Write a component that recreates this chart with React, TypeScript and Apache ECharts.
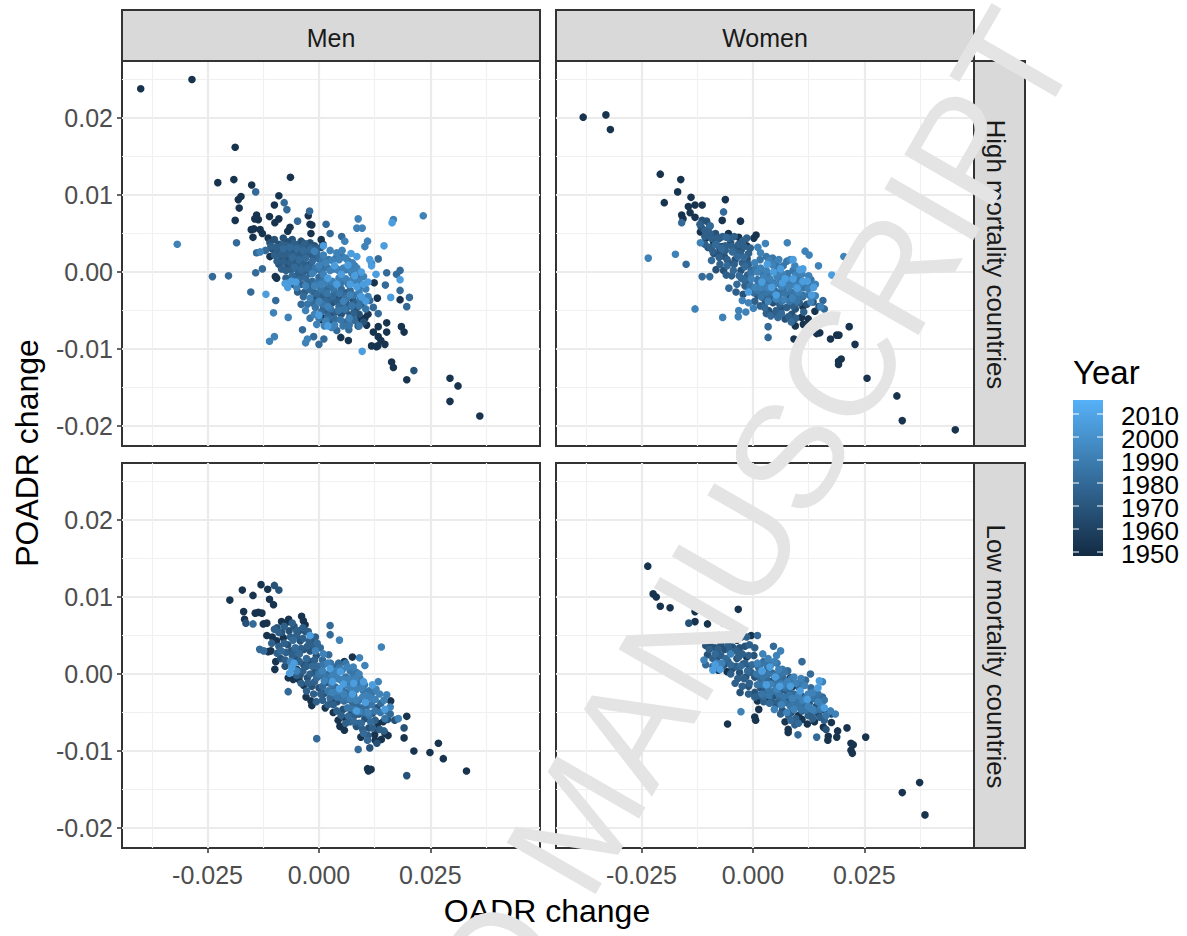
import React, { useEffect, useRef } from "react";
import * as echarts from "echarts";

type Group = [number, number[]];

const menHigh: Group[] = [
  [1952, [-40,23.8, -28.5,25, -18.8,16.2, -22.7,11.6, -19.1,12, -15.1,11.3, -6.4,12.3, -18.1,9.4, -17.5,9.8, -17.9,8.3, -18.8,6.7, -9,9.9, -10,8.7, -14,7.4, -13.6,6.8, -14.4,6.9, -11.1,7.2, -9,6.9, -15.2,5.5, -14.6,5.6, -14.8,4.5, -13.2,5.5, -12.7,5, -9.9,6.4, -6.5,5.8, -7,5.3, -2,6.2, -1.6,6.1, -1.8,5, -2.4,7.3, -11.4,4.4, 36.1,-18.7, 29.4,-13.8, 31.2,-14.8, 29.4,-16.8, 19.7,-14, 16.3,-11.7, 16.7,-12.4, 11.8,-9.6, 12.9,-9.7, 14.8,-9.4, 13.2,-9.6, 19.1,-7.8, 18.5,-7.1, 15.2,-6.6, 15.2,-7.8, 13.3,-7.1, 12.2,-7.8, 13.3,-8.4, 13.9,-8.9, 18.2,-3.6, 13.1,-3.4, 12.4,-1.4, 8.8,-7, 10.3,-6, 10.7,-6.9, 9.2,-6, 11,-5.5, 6.6,-8.9, 4.9,-8.5, 1,-6, 0.6,-6.2, 0.5,4.2, 0.9,3.6, -11,2, -9.5,-0.8, -9.8,-0.6]],
  [1968, [21.3,-12.8, -11,3.8, -10,4.2, -9,3.6, -8,4.4, -7,3.9, -6,4.2, -5,3.5, -4,4, -3,3.3, -2,3.8, -1,3.4, -10.5,3, -9,2.7, -7.5,2.9, -6,2.6, -4.5,2.5, -3,2.4, -8.5,1.8, -7,1.7, -5.5,1.5, -9,1, -7,0.9, -3.5,1.5, -1.5,2.4, 0.5,3.2, -5,0.5, -2,1, 2,-3.2, 3,-4, 4.5,-3.3, 6,-4, 7.5,-3.5, 8.5,-4.6, 1,-4.8, 3,-5.3, 5,-5.5, 7,-5.6, 9,-5.5, 10,-6.5, -1,-3.5, 0,-2.8, 8,-5, 9.5,-4.2, 6.2,-2.7, 2.5,-6.4]],
  [1975, [-10.8,3.3, -9.6,3.2, -8.2,3.5, -7.2,3.4, -5.6,3.7, -4.4,3.2, -3.2,3.7, -1.8,3.2, -0.6,3, -10,2.2, -8.8,2.3, -7.8,2.2, -6.6,2.4, -5.2,2.2, -3.8,2.1, -2.6,2.2, -1.2,1.9, -9.4,1.4, -8,1.3, -6.4,1.2, -4.8,1, -3.2,1, -1.8,0.7, -8.4,0.4, -7.4,0.2, -6.2,0.3, -4.6,0, -3.4,0.1, -2,-0.2, -7.4,-0.8, -5.2,-0.6, -3.8,-0.4, -5.8,-1.6, -4,-1.6, -2.4,-1.5, -4.8,-2.6, -3.2,-2.6, -1.2,-2.6, 0.5,-3.2, 2.2,-3.8, 4,-3.8, 5.2,-4.2, 6.8,-4.4, 8.2,-4, 1.6,-5, 3.8,-5.2, 6,-5, 7.8,-5.4]],
  [1980, [-14,2.5, -12,2.8, -8,3, -6.5,3.2, -5,3, -3.5,2.8, -2,2.9, -0.5,2.4, -6,1.9, -4.5,1.6, -3,1.8, -1.5,1.4, 0,1.7, -5.5,0.6, -4,0.3, -2.5,0.5, -1,0.2, 0.5,0.6, -6,-0.5, -4.5,-1, -3,-0.8, -1.5,-1.2, 0,-0.7, 1,-2.5, -2,-2.3, -0.5,-2.8, 2,-2, 3.5,-2.6, 5,-2.2, 1.5,-3.8, 3,-3.2, 4.5,-4.5, 6,-3, 7,-2.4, -3.5,-3.2, -4,-4.2, -1.5,-4, 0.5,-5.2, 2,-5.8, 3.5,-6.1, 6,-6.5, 8,-6.3, -14.2,10.4, -7.8,9, -7.2,8.1, -4.8,6.6, -2.1,7.9, -18.5,3.8, -23.9,-0.6, -20.3,-0.5, 1.6,6.2, 2.5,5, 6.7,-7.5, 4,-7.6, -14.2,-0.1, -12.7,0.4, -15.3,-2.6, -9.7,-3.7, 20.3,-3.3, 19.7,-4.5, 18.2,-2.4, 13.3,-5.4, 12.2,-4.6, 14.9,-1.7, 15.2,-0.1, 17.4,-0.3, 18.2,0.2, 11.4,-3.7, 13.3,1.7, 5.1,4.6, -3.7,-7.5, -1.2,-8.4, 1.1,-8.7, 0,-9.4]],
  [1986, [0.8,1.6, 2.2,1.6, 3.8,1.8, 5.2,2, 6.6,1.4, 8,0.8, -0.8,0.5, 0.6,0, 1.8,0.6, 3.2,0.4, 4.4,0.2, 6,0.3, 7.4,-0.2, 9,-0.4, -0.4,-1.4, 1,-1, 2.2,-1.6, 3.6,-1.8, 5,-1.4, 6.6,-1.6, 8.2,-1.4, 9.8,-1.8, 0.4,-2.2, 1.8,-2.8, 3.2,-2.2, 4.6,-2.8, 6.2,-3.4, 7.8,-3, 9.2,-3.5, -2.6,-4.2, -0.8,-4.6, 0.8,-4.2, 2.6,-4.8, 4.4,-5, 5.8,-4.8, 7.4,-4.4, 9,-4.4, 10.5,-4.8, -2,-6, 0,-6, 1.8,-6.2, 4.8,-6.2, 5.4,-7, 6.8,-6.9, 9,-7]],
  [1992, [-31.8,3.6, 8.8,6.9, 23.4,7.3, 16.7,6.8, 8.5,5.7, 9.7,5.7, 5.8,4, 10.9,4, 10.3,3.3, -13.2,2.6, -10.2,-5.3, -6.9,-5.9, -11.1,-9, -10,-8.4, -3,-9.2, -2.6,-8.7, -1,2.7, 1,2.2, 2.5,2.8, 4,2.5, 5.2,2.8, -1.5,-0.2, 0,0.8, 1.5,1.2, 3,1.5, 4.5,1.6, 6,1.8, 7.5,1.2, 1,-0.3, 2.5,0.2, 4,0.4, 5.5,0.5, 7,0.2, 8.5,0.5, 1.5,-1.3, 3,-1.2, 4.5,-0.8, 6,-0.9, 7.5,-1, 9,-1.2, 10,-0.6, -7,-1.4, -5,-2, -3,-1.8, -1,-1.8, 0.5,-1.6, -2,-3.4, 0,-3.8, 2,-4.5, 5.5,-3.8, 7,-3, 9,-2.6, 10.5,-2.2, 11,-3.2, -3,-5, -1,-5.5, -0.5,-6.8, 1.2,-7, 2.8,-7.2, 1.5,-6.4, 3.5,-6.9, 6.8,-6, 11.8,1.1]],
  [2006, [1,3.4, 3.5,0.8, 6.5,0.9, 2,-0.8, 5,-0.3, 8,-0.5, 9.5,0, 4,-1.6, 7,-1.6, 8.5,-1.9, 10,-1.6, 11,-1.3, 9.5,-3.2, 10.5,-3.8, 0,-5.6, 2,-7, -11.9,-2.9, -7,-2, -7.6,-1.5, -6.2,-1.2, -5.2,-1.3, 12.8,-0.3, 11.4,1.6, 11.8,0.8, 18.2,-1, 16.1,-3.3, 14.6,3.4, 16.4,6.4, 9.7,-10.3, 7.2,2.4, 8.5,2]],
];

const womenHigh: Group[] = [
  [1952, [-38.1,20.1, -33,20.4, -32,18.5, -20.8,12.7, -16.2,12, -19.9,9, -16.9,10.4, -13.9,9.7, -14.5,8.5, -13,8.7, -11.4,8.7, -16,7.4, -15.7,6.9, -14.1,7.7, -13,7.1, -6.2,9.4, -6.9,6.7, -2.8,6.6, 0.7,4.8, 0.2,4.4, -1.4,3.4, -5.5,5, 9.2,-8.7, 21.6,-7.1, 17.4,-8.7, 18.8,-8.2, 19.3,-8.2, 22.9,-9.4, 19.8,-11.3, 19.2,-11.6, 19.2,-12, 25.6,-13.8, 32.3,-16.1, 33.5,-19.3, 45.4,-20.5, 15,-7.9, 14.3,-8, 12.8,-6.6, 11.3,-6.8, 9.5,-7, 10.9,-5.9, 12.4,-6.1, 13.9,-5.1, 11.2,-4.5, -11.8,5.2, -10.6,4.4, -8.8,3.8, -6.8,3.3, -3.2,4.5, 5.8,0.4]],
  [1968, [-11.4,6.7, -10.4,6.6, -11.6,5.8, -9.7,5.9, -8.4,5, -7.5,4.4, -10.1,3.2, -8.8,2.4, -7.6,2.6, -6.4,2, -5,3.8, -3.9,3.2, -2.6,2.9, -5.5,1.2, -4,1.6, -8.3,0.3, -6.6,0.2, -1.3,1.7, -2.7,0.2, -0.8,-1.1, 2.8,-3.9, 4.5,-4, 5.7,-3.5, 3.5,-5, 4.9,-5.4, 6.4,-4.7, 7.2,-6.1, 8.7,-5.5, 9.5,-4.8, 12.1,-4.2, 7.9,-3.3, 1,-3, 13.5,-3.9, 11.5,-1.6, -2.2,-2.9, 14.8,-4.5]],
  [1975, [-11.9,6.2, -10.8,5.4, -9.6,5, -10.8,4.6, -9.4,4.4, -8,4.4, -6.8,4.6, -5.4,4.4, -4.2,4.6, -2.4,4, -1.4,4.4, -10.8,3.6, -9.6,3.2, -7.8,3.4, -6.2,3.4, -4.8,3.3, -3.2,3.6, -2,3.3, -0.6,3.1, -9,2.7, -7.6,1.9, -6.2,2.8, -4,2.6, -2.8,2.4, -1,2.4, -7.4,1, -5.8,1.6, -4.2,1, -2.4,1.2, -1,1, -6,-0.4, -4.8,-0.5, -2.6,-0.8, -1.2,-0.4, -3.8,-2.6, -1.8,-1.8, 0.4,-3.8, 1.6,-4.4, 2.2,-3.3, 4,-3.3, 6,-4.2, 7.6,-4.6, 9,-4.4, 10.4,-4, 11.4,-5.2, 8,-5.8, 9.6,-6, 5.2,-5, 3,-5.4]],
  [1980, [-16,6.4, -6.6,7.8, -9.6,6, -8.4,3.6, -7,3, -6,4.5, -4.6,2.6, -3.4,2, -2,1.9, -5.8,0.8, -4.4,0.2, -3.1,-0.5, -1.8,0.7, -0.4,0.2, -2,-1, -11.4,-0.6, -9.7,-0.6, -5.4,-2.1, -3.6,-1.6, -1,-2.4, 0.2,-2.7, 1.2,-1.3, 2.4,-2.6, 3.4,-3, 5,-2.5, 6.2,-2.7, 7.2,-2, 8.8,-2.7, 2.6,-4.6, 4,-5.7, 5.6,-5.9, 6.4,-5.4, 8.6,-6.5, 3.4,-7.1, 3.4,-8.5, 16,-4.8, 15.7,-3.7, 11.2,-3.2, -15,1, -9.3,1.5, 12.4,-1.4]],
  [1986, [0.6,0.5, 1.6,1.6, 3,2, 4.4,1.8, 5.2,1, 6.8,0.8, 7.6,1.4, -0.4,-0.2, 1,-1, 2.2,-0.2, 3.2,-0.4, 5,0.2, 6.2,-0.6, 7.8,-0.2, 9,0.2, 10.4,-0.8, -0.6,-1.8, 1,-2.4, 2,-1.8, 3.4,-1.4, 4.6,-1.4, 6,-1.4, 7.4,-1.4, 8.8,-1.4, 10.2,-1.4, 11.4,-2, 13,-1, 1.8,-3.2, 3,-2.6, 4.4,-2.6, 5.8,-3, 7.2,-2.8, 8.6,-2.6, 9.8,-3.2, 11.2,-3, 12.6,-3, 6.4,-3.8, 8.2,-3.8, 9.8,-3.8]],
  [1992, [-23.5,1.8, -17.4,2.3, -11.8,3.8, -13,-4.8, -6.8,-5.9, -3.2,-5, -3.3,-5.8, 7.7,3.8, 2.8,3.7, 11.7,2.7, 12.6,2.2, 20.4,2, 14.7,0.8, 1.7,2.5, 1.1,3.2, 3.6,1.5, 0.4,1.2, 1.7,0.5, 3,0.2, 4.4,0.9, 5.8,1.6, 8.4,1.6, 9.4,0.8, -0.4,-0.9, 1,0, 2.4,-0.7, 3.8,-0.9, 5.4,-0.6, 6.6,-0.3, 8.2,-0.9, 9.6,-0.4, 11,-0.3, 12.5,-0.5, 0.5,-2, 1.8,-2, 3.4,-2, 5,-1.6, 6.4,-1.9, 8,-1.9, 9.5,-1.8, 10.8,-1.5, 12.4,-2.2, -2.4,-3.7, -1,-4, 0.1,-4.7, -1.6,-5.2, 14,-1.6, 14,-3.1, 13,-3.9, 15.2,-4.5, 3.4,-3.8, 5.2,-3.5, 7,-3.6, 8.8,-3.4, 10.2,-2.6]],
  [2006, [17.7,-0.4, 10.5,0.3, 11.2,0.4, 9,1.6, 6.2,0.4, 3.2,1, 4.6,0, 7.2,-0.9, 2,-1.3, 4.2,-2, 6.6,-1.4, 9,-0.9, 11.2,-1.2, 9.9,-2.1, 12.2,-1.2, -1,-2.6, 13.2,-3, 13.6,-2, 5.2,-3]],
];

const menLow: Group[] = [
  [1952, [-17.2,10.9, -20,9.6, -14.8,10.2, -13,11.6, -11.5,11, -11.1,9.7, -10.2,9, -16.9,8.1, -16.7,7.1, -14.3,7.9, -13.6,8, -12.8,7.9, -12.5,6.5, -11.7,6.6, -3.9,7.5, -11.7,5, -11.4,2.9, -10.8,3, -9.7,1.6, -9.9,0.6, -6.9,-0.5, -5.8,-0.7, -1.6,-4.1, -1.8,-3.5, 16.1,-3.5, 19.7,-5.5, 19.1,-8.3, 21.3,-10, 26.8,-9, 24.9,-10.2, 27.9,-11, 33.1,-12.6, 11.1,-12.6, 10.9,-12.3, 11.7,-12.4, 15.5,-8, 14.8,-7.7, 12.5,-7.9, 13.3,-7.1, 9.4,-8.2, -8.4,6.8, -7.7,6.5, -7,6.8, -6.8,7.1, -3.1,6.4, -3.5,6.9, -8,4.7, -9.5,4.3, -10.5,4.8, -5,0.6, -4.5,-0.7, -3.4,-1.5, -2.9,-3, 1.4,-4.4, 3.2,-5, 2.7,-3.3, 4.3,-6, 4.7,-6.8, 5.7,-7.3, 6,-5.8, 13.2,-6.4, 12.6,-8.6, 14,-8.5, 7.5,2.2, 5.7,1.6, 7.9,-1.8, 14.4,-6.2]],
  [1968, [-16.4,6.6, 19.1,-7, 19.7,-13.2, 11.4,-9.6, 13,-9, -9,10.9, -10,11.5, -9.4,6, -8.4,5.4, -6.7,5.6, -5.6,6.2, -4.5,5.6, -3,5.5, -1.8,4.4, -7,3.8, -6.2,3, -4.2,4.3, -3.4,3.2, -2,3, -8.6,2, -7.6,1, -5,2, -3.4,1.2, -2,1.6, -0.6,2.4, -4.2,-0.1, -2.6,-0.5, -1,0.2, -1.6,-1.6, 0,-1.8, 1.2,-2.5, 1.8,-1.1, 3.3,-2, 4.1,-3.6, 5.4,-4.6, 6.4,-3.3, 7.2,-5.2, 8.4,-6.8, 9,-5.2, 10.3,-5.8, 11.2,-7, 12,-5.1, 13,-4.4, 15.4,-5.9, 17,-6]],
  [1975, [-10,5.8, -9,5.4, -7.8,6.2, -6,6.6, -5,5.6, -3.6,6, -2.4,5.5, -10.6,4, -9,3.6, -7.8,4, -6.4,4.8, -5,5, -3.6,4.6, -2.2,4.2, -0.8,4.8, -9.4,2.7, -7.4,2.8, -5.6,3, -4,3.3, -2.6,3.6, -1,3.6, -7.6,1.8, -6,2.4, -4.4,1.6, -2.8,1, -1,1.8, -5,-0.2, -3.6,0.4, -2,0, -0.2,0.2, -4,-1.2, -2.4,-1.2, -1,-1, -2.8,-2.2, -1.2,-2.6, 0.4,-2.6, -0.6,-3.6, 0.8,-3.4, 2,-4, 3.2,-4, 4,-4.8, 5,-5.4, 6,-6.4, 7,-6.2, 8,-5.4, 9,-6.4, 9.8,-7.2, 11,-8, 12,-7, 12.6,-6, 13.6,-7.2, 14.6,-7.4]],
  [1980, [-14.8,6.5, 8.8,-9.8, -0.5,-8.4, -6.9,-2.3, -13.3,3.2, -12.4,3, -8.5,3, -5.8,4.4, -5.3,3.4, -4.4,2.6, -2.8,2, -1.5,1, -0.2,1, 0.8,1.8, 2.2,2.5, -0.5,-0.5, 0.8,-0.3, 2,0, 3.2,0.9, 4.4,1.4, 0.8,-1.6, 2.8,-0.9, 3.7,-1.7, 5.2,-1.8, 6.4,-2.4, 2.5,-3.1, 4.6,-3, 5.6,-3.5, 7.6,-3.8, 8.6,-4.2, 9.7,-4.4, 10.9,-4.1, 6.6,-5.5, 7.8,-6.2, 9.5,-6.4, 11.6,-6.2, 13.9,-3.8, 15.2,-4.8, 16,-5.2, 10.9,-8.6, 10,-7.7, 2.5,6.3, 2.5,5.1, 0.3,3.4, -0.4,4]],
  [1986, [0,0, 1,1.2, 2.6,1.4, 3.2,0.2, 4.6,0.8, 6,1.4, 7,0.4, 8.4,0.2, 1.6,-0.4, 2.8,-1.4, 4,-0.4, 5,-0.8, 6,-0.4, 7.6,-0.4, 9.2,-0.6, 10.2,-1.4, 2,-2.2, 3.4,-2.4, 4.8,-2.4, 6,-1.4, 7.2,-1.4, 8.6,-1.2, 10,-2.2, 11.2,-2.2, 12,-2.4, 4,-3, 5.2,-3.2, 6.4,-3.2, 7.8,-2.8, 9,-3.4, 10.4,-3.4, 11.8,-4, 12.6,-4.8, 13.8,-5, 6.4,-4.4, 7.8,-4.6, 10,-5, 11.2,-5.4, 14.8,-5.8]],
  [1992, [4.6,4.4, 14,3.5, 9.1,2.1, 10.3,1.1, 13.3,-1, 15.2,-2.7, 17.8,-5.8, 16,-4.3, -5,0.4, -6.4,1.6, -0.8,3, 1,2.6, 2,1.4, 4,0.4, 5.2,0.5, 6.4,0.9, 7.7,0.9, 0.8,0.4, 1.2,-0.9, 3,-0.3, 4.2,-0.6, 5.4,-0.7, 6.8,-0.7, 8.2,-0.6, 9,0, 3,-2.4, 4.4,-2.2, 5.6,-2.6, 7,-1.8, 8.4,-2, 9.6,-1.8, 10.6,-2.8, 7,-3.2, 8.3,-3.4, 9.8,-3, 11.4,-3.1, 12.6,-3.3, 12.8,-2, 13.6,-2.6, 14.6,-3.4, 9,-4.9, 11,-5]],
  [2006, [-6.1,0.8, -6.6,0.1, -5.6,1.4, 2.5,0.7, 4.8,0.3, 3,-1, 5.5,-1.3, 7.8,-1.2, 4.6,-1.9, 7.5,-2.6, 10,-1, 8.4,-4.8, 10.4,-3.7, 12,-1.4, 14.8,-4.6, -2,5]],
];

const womenLow: Group[] = [
  [1952, [-23.6,14, -22.4,10.4, -21.7,10, -20.8,8.8, -18.6,8.6, -13,8.1, -11.1,8.3, -13,6.8, -10.2,6.5, -3.3,8.4, -6.3,7.1, -6.6,6.6, -5.6,6.6, -5.7,-6.5, 0.4,-5.6, 0.6,-6, 1.3,-4.6, 21.1,-7, 25.3,-8.2, 22,-9, 22.5,-9.2, 22,-9.9, 22.3,-10.3, 19,-7.4, 18.8,-8.2, 16.9,-8.1, 16.8,-8.6, 7.9,-7.2, 7.9,-7.6, 33.5,-15.4, 37.4,-14.1, 38.6,-18.3, -6.5,1.2, -7.8,0.5, -5.8,0.3, -0.4,5, -3.6,4.4, -5.4,4.6, -1.4,2.2, 1,-3.5, 3.2,-3.4, 8.4,-0.5, 9,-1.6, 11,-5.9, 12.2,-6.5, 13.8,-6.2, 15.8,-6.9, 17.6,-6.3, 10.2,-5.4, 7.4,-3.4, 7.2,-6.2, 14.6,-5.1]],
  [1968, [-14.4,6.6, -2.9,-2.4, -9.6,4, -10.6,3.7, -10.2,2.5, -8.5,3.4, -7.2,3.9, -8.2,2, -6.4,3.2, -4.6,3.5, -3,3.4, -1.8,3.6, -3.6,2, -2.2,1.3, -0.8,1, 0.2,2.4, -4.6,0.7, -3,0.2, -1.6,-0.4, 0.4,-0.4, -1,-1.6, 0.4,-2.4, 1.7,-1.8, 2.8,-2, 4.4,-0.9, 4.8,-2.8, 5.2,-4, 6.2,-2.2, 7.8,-2.4, 6.6,-4.7, 8.6,-5, 9.4,-3.4, 11,-2.9, 12.6,-3.8, 14.2,-4.2, 16.2,-4.8, 17.6,-5.2, 13,-5.3, 16.4,-7.2]],
  [1975, [-10.8,4.8, -9,4.8, -7.6,5, -6,5, -4.4,4.8, -2.6,4.8, -1.4,4.8, -9.8,3.2, -7.8,3.2, -5.6,3.8, -3.8,3, -2.4,2.6, -0.8,3.8, 0.4,3.4, -9,2, -7.2,2.4, -5.2,3, -3.2,2.2, -1,2.4, -6.8,1, -5.6,1.6, -3.8,1, -1.8,1.4, -0.4,0.2, -5,0, -3.4,-0.6, -2,-0.6, -0.8,-1.2, -4,-1.2, -2.4,-1.6, -1,-2.6, 0.4,-3, 1.4,-2.8, 2.4,-3.6, 4.4,-3.6, 5.8,-3.6, 6.2,-5.2, 8,-5.4, 9.6,-5.8, 9.4,-6.6, 11,-4.8, 12.4,-5.4, 13.4,-5.8, 15,-5.6, 16,-6]],
  [1980, [-16.3,4.4, 11,1.6, 12.9,0, -10.6,1.2, -9,1, -8.5,2.6, -6,2, -5,1.2, -2.8,1, -1.2,0.4, -0.2,1.2, 1.3,0.8, 2.4,1.6, 3.3,0.8, 1.7,-0.6, 3,-0.6, 4.4,0.1, 5.6,-1, 6.8,-0.6, 7.8,0.4, 2.4,-2.9, 3.8,-2.4, 3.7,-3.8, 6,-3, 7,-1.8, 8.2,-2.2, 9.2,-2.6, 10.4,-1.8, 11.4,-4.1, 10,-4.2, 8,-3.8, 11.8,-0.8, 13,-1.8, 14.4,-2.9, 15.6,-3, 13.6,-3.2, 8.5,-6, 10.2,-6.4, 4.6,3.6, 1,5, 14.3,-8.2, 10.1,-7.9]],
  [1986, [1.6,1.2, 2.8,1.4, 4,1.2, 5.4,1.4, 6.6,0.6, 0.8,0, 2.2,-0.4, 3.4,0, 4.8,-0.2, 6,0, 7,0.2, 8.6,-0.6, 1,-1.4, 2.2,-1.4, 3.4,-2, 5,-1.4, 6.2,-1.2, 7.2,-1.6, 8.6,-1.2, 10,-1.2, 11,-1.2, 2,-2.6, 3.6,-2.8, 4.8,-2.2, 5.8,-2.6, 7,-3, 8.2,-2.8, 9.4,-3.2, 10.8,-3.6, 12,-3, 13.2,-3, 14.6,-2.6, 16,-3.4, 6.8,-3.8, 8.4,-4.2, 9.8,-4, 10.8,-4.6, 12,-4.6, 13.8,-4.8, 15,-4.6, 16.4,-5.4]],
  [1992, [-2.7,-4.9, 15.6,-1, 6.2,3, 5.3,2.4, 2.2,2.6, 1,1.4, 3.4,2, 4.8,1.6, 5.8,0.6, 4,-1.3, 5.4,-2, 6.6,-1.4, 7.8,-1, 9.2,-0.4, 9.6,-1.2, 10.8,-0.6, 11.6,-1.5, 12.4,-2.6, 13.4,-2.4, 14.6,-3.6, 15.4,-4.2, 8.8,-3.2, 10.2,-2.8, 11.2,-3.4, 12.4,-4.2, 13.4,-4.6, 17.4,-4.8, 18.5,-5.2, -11,1.8, -8.2,1.4, -7,1.4, -5,2.6, 4.8,-4.6, 6.3,-4, 7.6,-5, 9.2,-4.6]],
  [2006, [-8.5,1.2, -9,0.5, -7.4,0.6, 2,0.4, 3.8,0.9, 5,-0.4, 3,-1.4, 6,-1.6, 8.4,-1.6, 10.6,-2.2, 14.6,-1.8, 14.9,-0.9, 12.2,-3.3, 16,-4.4]],
];

const xTicks = [-0.025, 0, 0.025];
const xMinorLines = [-0.0375, -0.0125, 0.0125, 0.0375];
const yTicks = [-0.02, -0.01, 0, 0.01, 0.02];
const yMinorLines = [-0.015, -0.005, 0.005, 0.015, 0.025];
const xRange = [-0.0442, 0.0496];
const yRange = [-0.0226, 0.0274];
const columnLabels = ["Men", "Women"];
const rowLabels = ["High mortality countries", "Low mortality countries"];
const legendYears = [2010, 2000, 1990, 1980, 1970, 1960, 1950];
const lowColor = "#132B43";
const highColor = "#56B1F7";

const FONT = "Liberation Sans";
const panelSeries = [menHigh, womenHigh, menLow, womenLow];
const panelLefts = [122, 556];
const panelTops = [61, 463];
const panelW = 418;
const panelH = 385;

function points(groups: Group[]) {
  const out: number[][] = [];
  groups.forEach(([year, flat]) => {
    for (let i = 0; i + 1 < flat.length; i += 2) out.push([flat[i] / 1000, flat[i + 1] / 1000, year]);
  });
  return out;
}

function buildOption() {
  const grid: any[] = [];
  const xAxis: any[] = [];
  const yAxis: any[] = [];
  const series: any[] = [];
  for (let r = 0; r < 2; r++) {
    for (let c = 0; c < 2; c++) {
      const g = grid.length;
      grid.push({ left: panelLefts[c], top: panelTops[r], width: panelW, height: panelH, show: true, backgroundColor: "#fff", borderColor: "#333333", borderWidth: 2, containLabel: false });
      const base = { type: "value", gridIndex: g, axisLine: { show: false, onZero: false } };
      const xBase = { ...base, min: xRange[0], max: xRange[1] };
      const yBase = { ...base, min: yRange[0], max: yRange[1] };
      // minor lines first so they lie under the major ones
      xAxis.push({ ...xBase, position: "top", axisTick: { show: false, customValues: xMinorLines }, axisLabel: { show: false, customValues: xMinorLines }, splitLine: { show: true, lineStyle: { color: "#f0f0f0", width: 1.2 } } });
      yAxis.push({ ...yBase, position: "right", axisTick: { show: false, customValues: yMinorLines }, axisLabel: { show: false, customValues: yMinorLines }, splitLine: { show: true, lineStyle: { color: "#f0f0f0", width: 1.2 } } });
      xAxis.push({
        ...xBase, position: "bottom",
        axisTick: { show: r === 1, length: 5, inside: false, customValues: xTicks, lineStyle: { color: "#333333", width: 1.5 } },
        axisLabel: { show: r === 1, customValues: xTicks, margin: 14, color: "#4d4d4d", fontFamily: FONT, fontSize: 25, formatter: (v: number) => v.toFixed(3) },
        splitLine: { show: true, lineStyle: { color: "#ebebeb", width: 2.2 } },
      });
      yAxis.push({
        ...yBase, position: "left",
        axisTick: { show: c === 0, length: 5, customValues: yTicks, lineStyle: { color: "#333333", width: 1.5 } },
        axisLabel: { show: c === 0, customValues: yTicks, margin: 9, color: "#4d4d4d", fontFamily: FONT, fontSize: 25, formatter: (v: number) => v.toFixed(2) },
        splitLine: { show: true, lineStyle: { color: "#ebebeb", width: 2.2 } },
      });
      series.push({
        type: "scatter", xAxisIndex: g * 2 + 1, yAxisIndex: g * 2 + 1,
        data: points(panelSeries[g]), symbol: "circle", symbolSize: 7.6, z: 5, silent: true,
        itemStyle: { opacity: 1 },
      });
    }
  }

  const graphic: any[] = [];
  columnLabels.forEach((t, c) => {
    graphic.push({ type: "rect", z: 3, silent: true, shape: { x: panelLefts[c], y: 10, width: panelW, height: 51 }, style: { fill: "#d9d9d9", stroke: "#333333", lineWidth: 2 } });
    graphic.push({ type: "text", z: 4, silent: true, x: panelLefts[c] + panelW / 2, y: 38, style: { text: t, fill: "#1a1a1a", font: `25px "${FONT}"`, textAlign: "center", textVerticalAlign: "middle" } });
  });
  rowLabels.forEach((t, r) => {
    graphic.push({ type: "rect", z: 3, silent: true, shape: { x: 974, y: panelTops[r], width: 51, height: panelH }, style: { fill: "#d9d9d9", stroke: "#333333", lineWidth: 2 } });
    graphic.push({ type: "text", z: 4, silent: true, x: 996, y: panelTops[r] + panelH / 2 + 1, rotation: -Math.PI / 2, style: { text: t, fill: "#1a1a1a", font: `25.8px "${FONT}"`, textAlign: "center", textVerticalAlign: "middle" } });
  });
  graphic.push({ type: "text", z: 4, silent: true, x: 547, y: 911, style: { text: "OADR change", fill: "#000", font: `32px "${FONT}"`, textAlign: "center", textVerticalAlign: "middle" } });
  graphic.push({ type: "text", z: 4, silent: true, x: 27, y: 453, rotation: Math.PI / 2, style: { text: "POADR change", fill: "#000", font: `32px "${FONT}"`, textAlign: "center", textVerticalAlign: "middle" } });
  graphic.push({ type: "text", z: 4, silent: true, x: 1073, y: 372, style: { text: "Year", fill: "#000", font: `33px "${FONT}"`, textAlign: "left", textVerticalAlign: "middle" } });
  graphic.push({
    type: "rect", z: 4, silent: true, shape: { x: 1073, y: 400, width: 30, height: 156 },
    style: { fill: { type: "linear", x: 0, y: 0, x2: 0, y2: 1, colorStops: [{ offset: 0, color: highColor }, { offset: 1, color: lowColor }] } },
  });
  legendYears.forEach((yr) => {
    const y = 552 - (yr - 1950) * 2.3;
    graphic.push({ type: "line", z: 5, silent: true, shape: { x1: 1073, y1: y, x2: 1079, y2: y }, style: { stroke: "#fff", lineWidth: 1 } });
    graphic.push({ type: "line", z: 5, silent: true, shape: { x1: 1097, y1: y, x2: 1103, y2: y }, style: { stroke: "#fff", lineWidth: 1 } });
    graphic.push({ type: "text", z: 5, silent: true, x: 1121, y: y + 2, style: { text: String(yr), fill: "#000", font: `26px "${FONT}"`, textAlign: "left", textVerticalAlign: "middle" } });
  });
  graphic.push({
    type: "text", z: 100, silent: true, x: 1102, y: 63, rotation: (Math.PI / 180) * 60,
    style: { text: "ACCEPTED MANUSCRIPT", fill: "#e4e4e4", font: `149px "${FONT}"`, textAlign: "right", textVerticalAlign: "bottom" },
  });

  return {
    animation: false,
    backgroundColor: "#fff",
    grid, xAxis, yAxis, series, graphic,
    visualMap: { type: "continuous", show: false, min: 1948, max: 2016, dimension: 2, seriesIndex: [0, 1, 2, 3], inRange: { color: [lowColor, highColor] } },
  };
}

export default function App() {
  const ref = useRef<HTMLDivElement>(null);
  useEffect(() => {
    const chart = echarts.init(ref.current!, null, { renderer: "svg" });
    chart.setOption(buildOption() as any);
    return () => chart.dispose();
  }, []);
  return <div ref={ref} style={{ position: "absolute", left: 0, top: 0, width: 1187, height: 936 }} />;
}
